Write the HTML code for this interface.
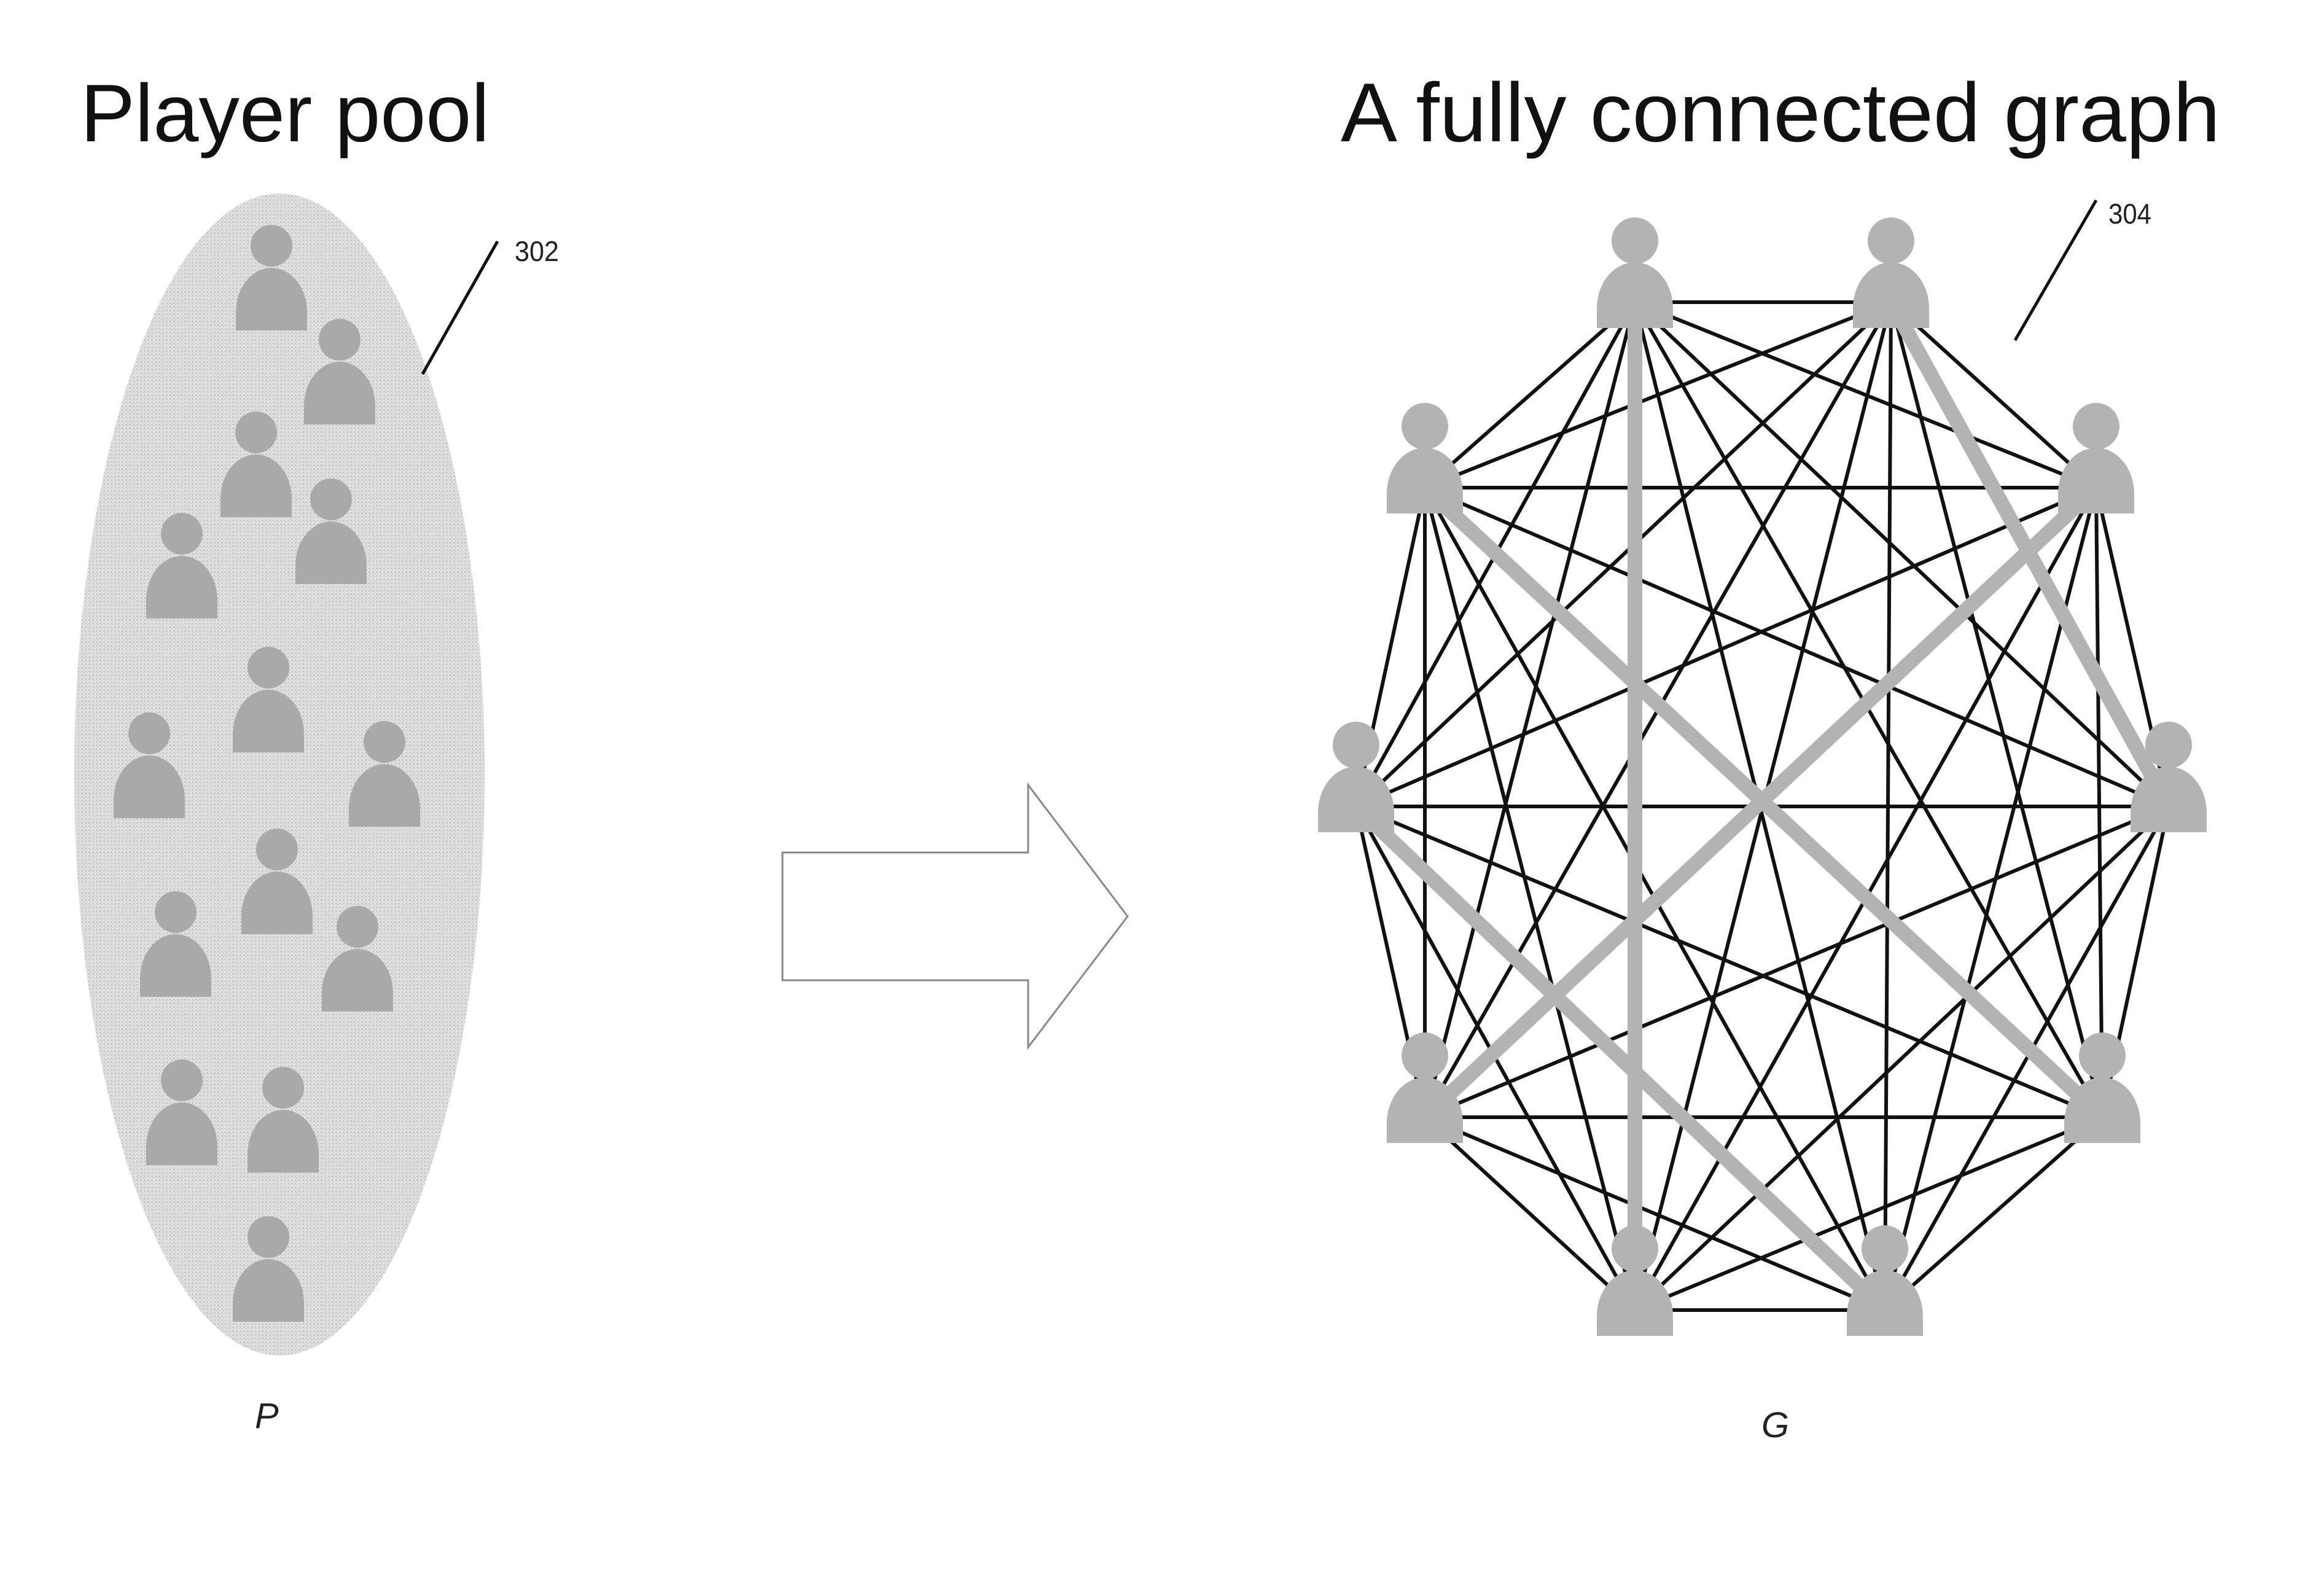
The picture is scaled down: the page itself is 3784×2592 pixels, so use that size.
<!DOCTYPE html>
<html><head><meta charset="utf-8"><style>
html,body{margin:0;padding:0;background:#fff;}
svg{display:block;}
</style></head><body>
<svg width="3784" height="2592" viewBox="0 0 3784 2592" xmlns="http://www.w3.org/2000/svg">
<defs>
<pattern id="dots" width="6" height="6" patternUnits="userSpaceOnUse">
<rect width="6" height="6" fill="#e2e2e2"/><rect x="0" y="0" width="3" height="3" fill="#c8c8c8"/><rect x="3" y="3" width="2" height="2" fill="#cfcfcf"/>
</pattern>
<g id="pp"><circle cx="0" cy="0" r="34" fill="#a9a9a9"/><path d="M-58,138 L-58,108 A58,72 0 0 1 58,108 L58,138 Z" fill="#a9a9a9"/></g>
<g id="gp"><circle cx="0" cy="-100" r="38" fill="#b3b3b3"/><path d="M-62,42 L-62,10 A62,75 0 0 1 62,10 L62,42 Z" fill="#b3b3b3"/></g>
</defs>
<text x="131" y="230" font-family="Liberation Sans, sans-serif" font-size="133" fill="#111" textLength="666" lengthAdjust="spacingAndGlyphs">Player pool</text>
<text x="2183" y="230" font-family="Liberation Sans, sans-serif" font-size="136" fill="#111" textLength="1432" lengthAdjust="spacingAndGlyphs">A fully connected graph</text>
<ellipse cx="455" cy="1261" rx="334" ry="946" fill="url(#dots)"/>
<use href="#pp" x="442" y="400"/><use href="#pp" x="553" y="553"/><use href="#pp" x="417" y="704"/><use href="#pp" x="539" y="813"/><use href="#pp" x="296" y="869"/><use href="#pp" x="437" y="1087"/><use href="#pp" x="243" y="1194"/><use href="#pp" x="626" y="1208"/><use href="#pp" x="451" y="1383"/><use href="#pp" x="286" y="1485"/><use href="#pp" x="582" y="1509"/><use href="#pp" x="296" y="1759"/><use href="#pp" x="461" y="1771"/><use href="#pp" x="437" y="2014"/>
<line x1="810" y1="393" x2="688" y2="609" stroke="#111" stroke-width="5"/>
<text x="838" y="425" font-family="Liberation Sans, sans-serif" font-size="46" fill="#222" textLength="72" lengthAdjust="spacingAndGlyphs">302</text>
<text x="415" y="2325" font-family="Liberation Sans, sans-serif" font-size="58" font-style="italic" fill="#222">P</text>
<polygon points="1274,1388 1674,1388 1674,1278 1836,1492 1674,1705 1674,1596 1274,1596" fill="#fff" stroke="#888" stroke-width="3"/>
<line x1="3413" y1="326" x2="3281" y2="554" stroke="#111" stroke-width="5"/>
<text x="3433" y="364" font-family="Liberation Sans, sans-serif" font-size="46" fill="#222" textLength="70" lengthAdjust="spacingAndGlyphs">304</text>
<text x="2868" y="2340" font-family="Liberation Sans, sans-serif" font-size="58" font-style="italic" fill="#222">G</text>
<g stroke="#111" stroke-width="6">
<line x1="2662" y1="492" x2="3079" y2="492"/><line x1="2662" y1="492" x2="2320" y2="794"/><line x1="2662" y1="492" x2="3413" y2="794"/><line x1="2662" y1="492" x2="2208" y2="1313"/><line x1="2662" y1="492" x2="3531" y2="1313"/><line x1="2662" y1="492" x2="2320" y2="1819"/><line x1="2662" y1="492" x2="3423" y2="1819"/><line x1="2662" y1="492" x2="3069" y2="2133"/>
<line x1="3079" y1="492" x2="2320" y2="794"/><line x1="3079" y1="492" x2="3413" y2="794"/><line x1="3079" y1="492" x2="2208" y2="1313"/><line x1="3079" y1="492" x2="2320" y2="1819"/><line x1="3079" y1="492" x2="3423" y2="1819"/><line x1="3079" y1="492" x2="2662" y2="2133"/><line x1="3079" y1="492" x2="3069" y2="2133"/>
<line x1="2320" y1="794" x2="3413" y2="794"/><line x1="2320" y1="794" x2="2208" y2="1313"/><line x1="2320" y1="794" x2="3531" y2="1313"/><line x1="2320" y1="794" x2="2320" y2="1819"/><line x1="2320" y1="794" x2="2662" y2="2133"/><line x1="2320" y1="794" x2="3069" y2="2133"/>
<line x1="3413" y1="794" x2="2208" y2="1313"/><line x1="3413" y1="794" x2="3531" y2="1313"/><line x1="3413" y1="794" x2="3423" y2="1819"/><line x1="3413" y1="794" x2="2662" y2="2133"/><line x1="3413" y1="794" x2="3069" y2="2133"/>
<line x1="2208" y1="1313" x2="3531" y2="1313"/><line x1="2208" y1="1313" x2="2320" y2="1819"/><line x1="2208" y1="1313" x2="3423" y2="1819"/><line x1="2208" y1="1313" x2="2662" y2="2133"/>
<line x1="3531" y1="1313" x2="2320" y2="1819"/><line x1="3531" y1="1313" x2="3423" y2="1819"/><line x1="3531" y1="1313" x2="2662" y2="2133"/><line x1="3531" y1="1313" x2="3069" y2="2133"/>
<line x1="2320" y1="1819" x2="3423" y2="1819"/><line x1="2320" y1="1819" x2="2662" y2="2133"/><line x1="2320" y1="1819" x2="3069" y2="2133"/>
<line x1="3423" y1="1819" x2="2662" y2="2133"/><line x1="3423" y1="1819" x2="3069" y2="2133"/>
<line x1="2662" y1="2133" x2="3069" y2="2133"/>
</g>
<g stroke="#b3b3b3" stroke-width="24" stroke-linecap="round">
<line x1="2662" y1="492" x2="2662" y2="2133"/>
<line x1="3079" y1="492" x2="3531" y2="1313"/>
<line x1="2320" y1="794" x2="3423" y2="1819"/>
<line x1="3413" y1="794" x2="2320" y2="1819"/>
<line x1="2208" y1="1313" x2="3069" y2="2133"/>
</g>
<use href="#gp" x="2662" y="492"/><use href="#gp" x="3079" y="492"/><use href="#gp" x="2320" y="794"/><use href="#gp" x="3413" y="794"/><use href="#gp" x="2208" y="1313"/><use href="#gp" x="3531" y="1313"/><use href="#gp" x="2320" y="1819"/><use href="#gp" x="3423" y="1819"/><use href="#gp" x="2662" y="2133"/><use href="#gp" x="3069" y="2133"/>
</svg>
</body></html>
